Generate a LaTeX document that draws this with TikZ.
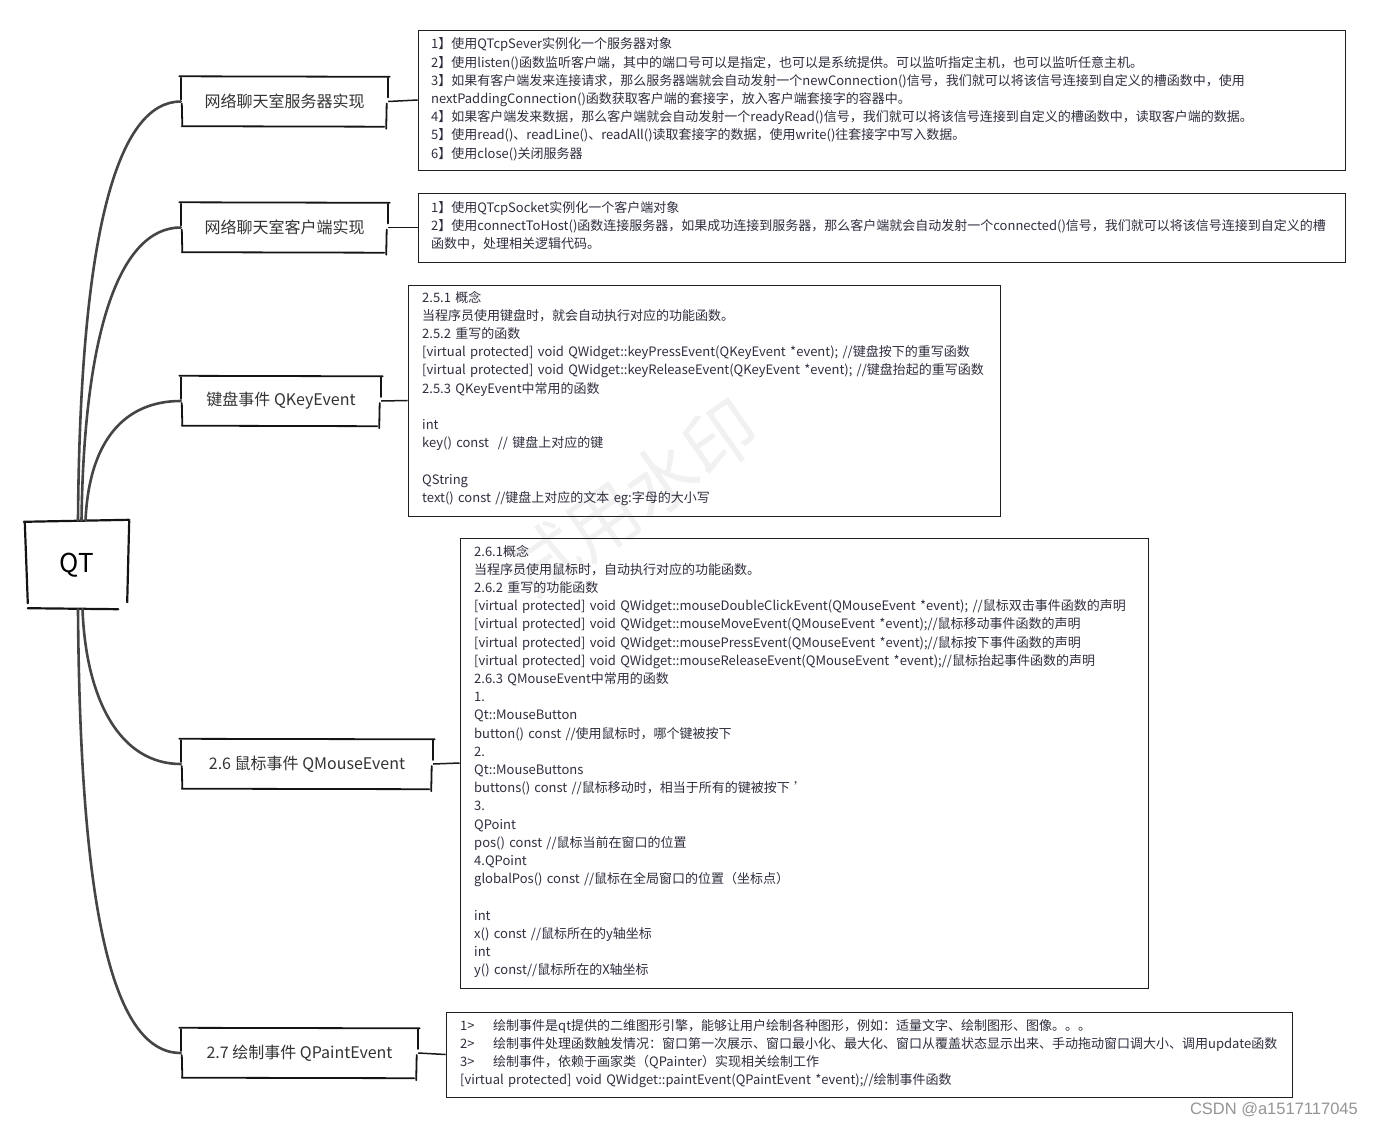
\documentclass[tikz,border=0pt]{standalone}
\usepackage{fontspec}
\setmainfont{Noto Sans CJK SC}
\newfontfamily\csdnfont{Liberation Sans}
\definecolor{txtgray}{HTML}{333333}
\definecolor{detailtxt}{HTML}{2E2E3E}
\definecolor{branchgray}{HTML}{454545}
\definecolor{wmgray}{HTML}{F1F1F1}
\newcommand\sketchbox[1]{%
  \draw[sketchline] ([xshift=-1.5pt,yshift=0.5pt]#1.north west) -- ([xshift=1.5pt]#1.north east);
  \draw[sketchline] ([xshift=0.5pt,yshift=-1pt]#1.north west) -- ([xshift=0.5pt,yshift=2pt]#1.west);
  \draw[sketchline] ([xshift=1pt,yshift=-2pt]#1.west) -- ([xshift=1.5pt,yshift=1pt]#1.south west);
  \draw[sketchline] ([xshift=1pt]#1.south west) -- ([xshift=-4pt,yshift=-0.5pt]#1.south east);
  \draw[sketchline] ([xshift=-0.5pt,yshift=-1pt]#1.north east) -- ([xshift=-0.5pt,yshift=4pt]#1.east);
  \draw[sketchline] ([xshift=-1.5pt,yshift=-2pt]#1.east) -- ([xshift=-2pt,yshift=-2.5pt]#1.south east);
}
\begin{document}
\begin{tikzpicture}[x=1pt,y=-1pt,
  sketchline/.style={line width=1.8pt,draw=black!92,line cap=round},
  topicbox/.style={rectangle,inner sep=0pt,minimum height=49pt,text=txtgray,font=\fontsize{16}{18}\selectfont},
  detailbox/.style={rectangle,draw=black!88,line width=0.9pt,inner sep=0pt},
  detailtext/.style={anchor=base west,inner sep=0pt,text width=1000pt,align=left,text=detailtxt,font=\fontsize{13}{18.2}\selectfont},
  branch/.style={draw=branchgray,line width=2.6pt,line cap=round},
  link/.style={draw=black!90,line width=1.5pt}]
\useasboundingbox (0,0) rectangle (1373,1126);

% watermark
\node[text=wmgray,font=\fontsize{72}{72}\selectfont,rotate=35] (wm) at (632,500) {试用水印};

% root
\node[rectangle,inner sep=0pt,minimum width=103pt,minimum height=88pt,font=\fontsize{26}{28}\selectfont,text=black] (qt) at (76.5,565) {QT};
\draw[sketchline,line width=2.2pt] ([xshift=-1pt,yshift=-1pt]qt.north west) -- ([xshift=1pt,yshift=1pt]qt.north east);
\draw[sketchline,line width=2.2pt] ([yshift=-2pt]qt.north west) -- ([xshift=3pt,yshift=6pt]qt.south west);
\draw[sketchline,line width=2.2pt] ([xshift=3pt,yshift=1pt]qt.south west) -- ([xshift=-10pt]qt.south east);
\draw[sketchline,line width=2.2pt] ([xshift=1pt]qt.north east) -- ([xshift=-1pt,yshift=7pt]qt.south east);

% topics
\node[topicbox,minimum width=207pt] (t1) at (284.5,101.5) {网络聊天室服务器实现};
\node[topicbox,minimum width=207pt] (t2) at (284.5,227.5) {网络聊天室客户端实现};
\node[topicbox,minimum width=200pt] (t3) at (281,401) {键盘事件 QKeyEvent};
\node[topicbox,minimum width=252pt] (t4) at (307,764) {2.6 鼠标事件 QMouseEvent};
\node[topicbox,minimum width=237pt] (t5) at (299.5,1053) {2.7 绘制事件 QPaintEvent};
\sketchbox{t1}\sketchbox{t2}\sketchbox{t3}\sketchbox{t4}\sketchbox{t5}

% branches
\draw[branch] ([xshift=1.5pt]qt.north) .. controls (80,230) and (118,101.5) .. (t1.west);
\draw[branch] ([xshift=5pt]qt.north) .. controls (84,330) and (120,227.5) .. (t2.west);
\draw[branch] ([xshift=9pt]qt.north) .. controls (89,440) and (125,401) .. (t3.west);
\draw[branch] ([xshift=6pt]qt.south) .. controls (86,700) and (120,764) .. (t4.west);
\draw[branch] ([xshift=1.5pt]qt.south) .. controls (80,900) and (110,1053) .. (t5.west);

% detail boxes
\node[detailbox,minimum width=927pt,minimum height=140pt] (d1) at (881.5,100) {};
\node[detailbox,minimum width=927pt,minimum height=69pt] (d2) at (881.5,227.5) {};
\node[detailbox,minimum width=592pt,minimum height=231pt] (d3) at (704,400.5) {};
\node[detailbox,minimum width=688pt,minimum height=450pt] (d4) at (804,763) {};
\node[detailbox,minimum width=846pt,minimum height=85pt] (d5) at (869,1054.5) {};

\draw[link] (t1.east) -- (d1.west);
\draw[link] (t2.east) -- (d2.west);
\draw[link] (t3.east) -- (d3.west);
\draw[link] (t4.east) -- (d4.west);
\draw[link] (t5.east) -- (d5.west);

% detail texts
\node[detailtext] (x1) at (431,49) {1】使用QTcpSever实例化一个服务器对象\\
2】使用listen()函数监听客户端，其中的端口号可以是指定，也可以是系统提供。可以监听指定主机，也可以监听任意主机。\\
3】如果有客户端发来连接请求，那么服务器端就会自动发射一个newConnection()信号，我们就可以将该信号连接到自定义的槽函数中，使用\\
nextPaddingConnection()函数获取客户端的套接字，放入客户端套接字的容器中。\\
4】如果客户端发来数据，那么客户端就会自动发射一个readyRead()信号，我们就可以将该信号连接到自定义的槽函数中，读取客户端的数据。\\
5】使用read()、readLine()、readAll()读取套接字的数据，使用write()往套接字中写入数据。\\
6】使用close()关闭服务器};

\node[detailtext] (x2) at (431,212) {1】使用QTcpSocket实例化一个客户端对象\\
2】使用connectToHost()函数连接服务器，如果成功连接到服务器，那么客户端就会自动发射一个connected()信号，我们就可以将该信号连接到自定义的槽\\
函数中，处理相关逻辑代码。};

\node[detailtext] (x3) at (422,302) {2.5.1 概念\\
当程序员使用键盘时，就会自动执行对应的功能函数。\\
2.5.2 重写的函数\\
{}[virtual protected] void QWidget::keyPressEvent(QKeyEvent *event); //键盘按下的重写函数\\
{}[virtual protected] void QWidget::keyReleaseEvent(QKeyEvent *event); //键盘抬起的重写函数\\
2.5.3 QKeyEvent中常用的函数\\
\mbox{}\\
int\\
key() const\ \ // 键盘上对应的键\\
\mbox{}\\
QString\\
text() const //键盘上对应的文本 eg:字母的大小写};

\node[detailtext] (x4) at (474,556) {2.6.1概念\\
当程序员使用鼠标时，自动执行对应的功能函数。\\
2.6.2 重写的功能函数\\
{}[virtual protected] void QWidget::mouseDoubleClickEvent(QMouseEvent *event); //鼠标双击事件函数的声明\\
{}[virtual protected] void QWidget::mouseMoveEvent(QMouseEvent *event);//鼠标移动事件函数的声明\\
{}[virtual protected] void QWidget::mousePressEvent(QMouseEvent *event);//鼠标按下事件函数的声明\\
{}[virtual protected] void QWidget::mouseReleaseEvent(QMouseEvent *event);//鼠标抬起事件函数的声明\\
2.6.3 QMouseEvent中常用的函数\\
1.\\
Qt::MouseButton\\
button() const //使用鼠标时，哪个键被按下\\
2.\\
Qt::MouseButtons\\
buttons() const //鼠标移动时，相当于所有的键被按下 ’\\
3.\\
QPoint\\
pos() const //鼠标当前在窗口的位置\\
4.QPoint\\
globalPos() const //鼠标在全局窗口的位置（坐标点）\\
\mbox{}\\
int\\
x() const //鼠标所在的y轴坐标\\
int\\
y() const//鼠标所在的X轴坐标};

\node[detailtext] (x5) at (460,1030) {\makebox[33pt][l]{1>}绘制事件是qt提供的二维图形引擎，能够让用户绘制各种图形，例如：适量文字、绘制图形、图像。。。\\
\makebox[33pt][l]{2>}绘制事件处理函数触发情况：窗口第一次展示、窗口最小化、最大化、窗口从覆盖状态显示出来、手动拖动窗口调大小、调用update函数\\
\makebox[33pt][l]{3>}绘制事件，依赖于画家类（QPainter）实现相关绘制工作\\
{}[virtual protected] void QWidget::paintEvent(QPaintEvent *event);//绘制事件函数};

% credit
\node[anchor=east,inner sep=0pt,text=black!42,font=\csdnfont\fontsize{16.5}{18}\selectfont] (csdn) at (1358,1110) {CSDN @a1517117045};
\end{tikzpicture}
\end{document}
